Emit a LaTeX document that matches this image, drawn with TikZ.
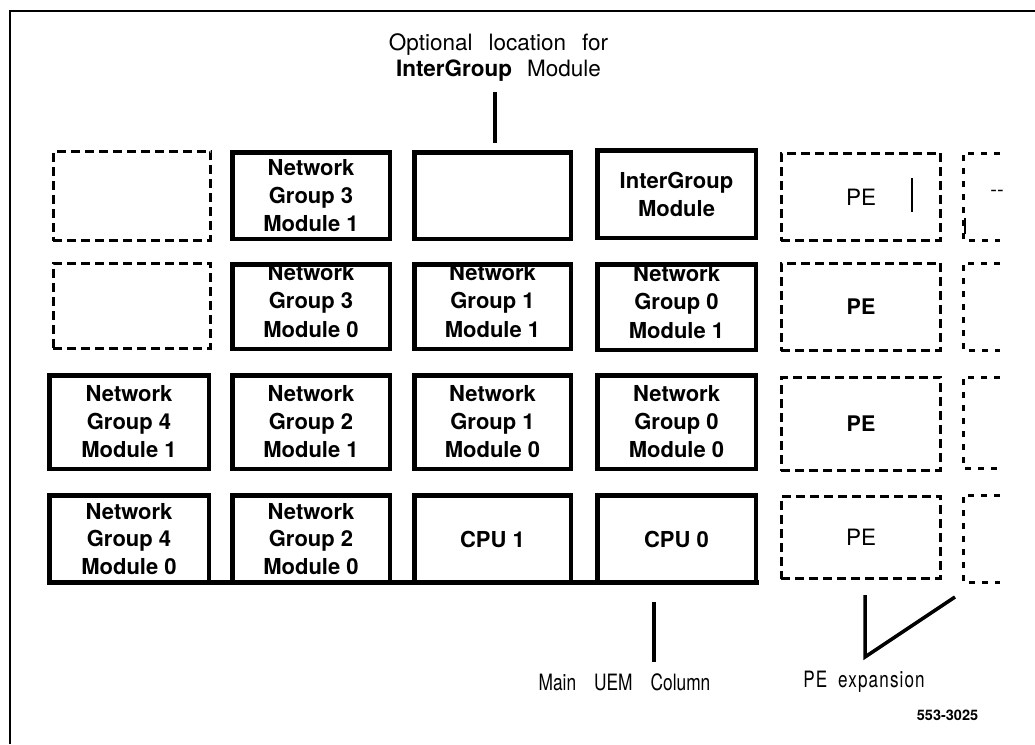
\documentclass[tikz,border=0pt]{standalone}
\usepackage{fontspec}
\setmainfont{TeX Gyre Heros}
\newfontfamily\narrowfont{TeX Gyre Heros}[FakeStretch=0.77]
\newfontfamily\narrowlsfont{TeX Gyre Heros}[FakeStretch=0.76,LetterSpace=5]
\begin{document}
\begin{tikzpicture}[x=1pt,y=-1pt,
  mod/.style={draw, line width=4.5pt, inner sep=0pt, align=center,
    font=\bfseries\fontsize{22}{28}\selectfont},
  modtext/.style={inner sep=0pt, align=center, font=\bfseries\fontsize{22}{28.5}\selectfont},
  ghost/.style={draw, line width=2.6pt, dash pattern=on 9pt off 5pt, inner sep=0pt},
  pe/.style={ghost, font=\fontsize{22.5}{27}\selectfont},
  peb/.style={ghost, font=\bfseries\fontsize{21.5}{27}\selectfont},
  ghostopen/.style={line width=3pt, dash pattern=on 6pt off 7pt},
  lead/.style={line width=3.5pt},
  frame/.style={line width=2pt},
  lab/.style={inner sep=0pt, align=center, font=\fontsize{22.5}{26}\selectfont},
  c0/.style={minimum width=159.5pt}, g0/.style={minimum width=157.5pt},
  c1/.style={minimum width=157.5pt}, c2/.style={minimum width=156.5pt},
  c3/.style={minimum width=158.5pt}, cp/.style={minimum width=159.5pt}]
\useasboundingbox (0,0) rectangle (1035,744);
% frame
\draw[frame] (10,744) -- (10,10.5) -- (1035,10.5);

% top label
\node[lab] (lbl) at (498.5,58) {Optional\hspace{16pt}location\hspace{16pt}for\\{\bfseries InterGroup}\hspace{15pt}Module};

% row 0
\node[ghost, g0, minimum height=89.4pt] (g00) at (132,196) {};
\node[mod, c1, minimum height=86.5pt] (m01) at (311,195.5) {Network\\Group 3\\Module 1};
\node[mod, c2, minimum height=86.5pt] (m02) at (492.5,195.5) {};
\node[mod, c3, minimum height=87.5pt] (m03) at (676.5,194) {InterGroup\\Module};
\node[pe, cp, minimum height=87.5pt] (p0) at (861,197) {PE};

% row 1
\node[ghost, g0, minimum height=85.4pt] (g10) at (132,306) {};
\begin{scope}
\clip (220,266) rectangle (770,360);
\node[modtext] (t11) at (311,301) {Network\\Group 3\\Module 0};
\node[modtext] (t12) at (492.5,301) {Network\\Group 1\\Module 1};
\node[modtext] (t13) at (676.5,302) {Network\\Group 0\\Module 1};
\end{scope}
\node[mod, c1, minimum height=84.5pt] (m11) at (311,306.5) {};
\node[mod, c2, minimum height=84.5pt] (m12) at (492.5,306.5) {};
\node[mod, c3, minimum height=85.5pt] (m13) at (676.5,307) {};
\node[peb, cp, minimum height=87.5pt] (p1) at (861,307) {PE};

% row 2
\node[mod, c0, minimum height=93.5pt] (m20) at (129,422) {Network\\Group 4\\Module 1};
\node[mod, c1, minimum height=93.5pt] (m21) at (311,422) {Network\\Group 2\\Module 1};
\node[mod, c2, minimum height=93.5pt] (m22) at (492.5,422) {Network\\Group 1\\Module 0};
\node[mod, c3, minimum height=93.5pt] (m23) at (676.5,422) {Network\\Group 0\\Module 0};
\node[peb, cp, minimum height=93.5pt] (p2) at (861,424) {PE};

% row 3
\node[mod, c0, minimum height=87.5pt, font=\bfseries\fontsize{22}{27.5}\selectfont] (m30) at (129,539) {Network\\Group 4\\Module 0};
\node[mod, c1, minimum height=87.5pt, font=\bfseries\fontsize{22}{27.5}\selectfont] (m31) at (311,539) {Network\\Group 2\\Module 0};
\node[mod, c2, minimum height=87.5pt] (m32) at (492.5,539) {CPU 1};
\node[mod, c3, minimum height=87.5pt] (m33) at (676.5,539) {CPU 0};
\node[pe, cp, minimum height=82.5pt] (p3) at (861,537.5) {PE};

% base line
\coordinate (baseL) at (47,582.5);
\coordinate (baseR) at (759,582.5);
\draw[line width=5pt] (baseL) -- (baseR);

% extra expansion column
\draw[ghostopen] (1000,153) -- (963,153) -- (963,240) -- (1000,240);
\draw[ghostopen] (1000,263) -- (963,263) -- (963,350) -- (1000,350);
\draw[ghostopen] (1000,377) -- (963,377) -- (963,468) -- (1000,468);
\draw[ghostopen] (1000,495) -- (963,495) -- (963,582) -- (1000,582);
\node[inner sep=0pt, font=\fontsize{20}{20}\selectfont] (dd) at (997,193) {{-}{-}};
\draw[line width=1.2pt] (912,178) -- (912,212);
\draw[line width=1.5pt] (965,218) -- (965,234);

% leader lines
\coordinate (la) at (495,92);
\coordinate (lb) at (495,143);
\draw[lead] (la) -- (lb);

\node[inner sep=0pt, font=\narrowfont\fontsize{22.5}{26}\selectfont] (uem) at (624.5,682) {Main\hspace{18pt}UEM\hspace{18pt}Column};
\coordinate (ma) at (654,602);
\coordinate (mb) at (654,662);
\draw[lead] (ma) -- (mb);

\node[inner sep=0pt, font=\narrowlsfont\fontsize{22.5}{26}\selectfont] (pex) at (864,682) {PE\hspace{11pt}expansion};
\coordinate (ea) at (865,595);
\coordinate (eb) at (865,657);
\coordinate (ec) at (955,597);
\draw[lead, line join=miter] (ea) -- (eb) -- (ec);

\node[inner sep=0pt, font=\bfseries\fontsize{14.5}{16}\selectfont] (fig) at (947.5,715) {553-3025};
\end{tikzpicture}
\end{document}
